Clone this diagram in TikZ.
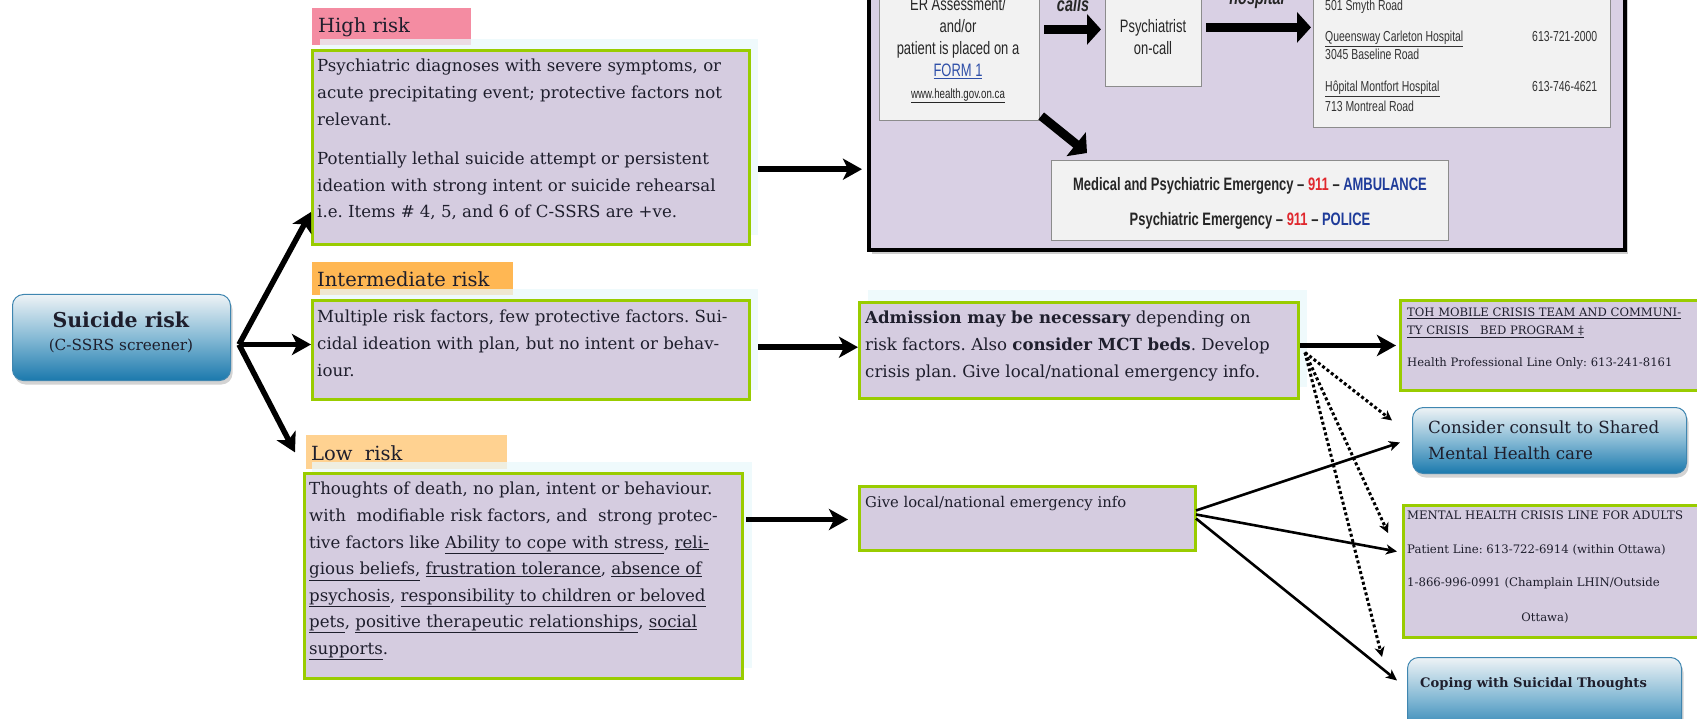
\documentclass[tikz,border=0pt]{standalone}
\usepackage{fontspec}
\setmainfont{DejaVu Serif}
\newfontfamily\cond[FakeStretch=0.72]{Liberation Sans}
\usetikzlibrary{arrows.meta,shadows,calc}
\definecolor{lav}{HTML}{D5CCE0}
\definecolor{biglav}{HTML}{D9D0E4}
\definecolor{grn}{HTML}{99CC00}
\definecolor{cyanbg}{HTML}{EAF8FB}
\definecolor{pinkl}{HTML}{F48CA2}
\definecolor{orangel}{HTML}{FFB753}
\definecolor{lorange}{HTML}{FFD291}
\definecolor{greyf}{HTML}{F2F2F2}
\definecolor{greyd}{HTML}{8C8C8C}
\definecolor{ered}{HTML}{E0282E}
\definecolor{eblue}{HTML}{1F3C9A}
\definecolor{formblue}{HTML}{2E4FA8}
\definecolor{ink}{HTML}{1E1E2C}
\definecolor{gtop}{HTML}{EEF3F6}
\definecolor{gmid}{HTML}{86BAD5}
\definecolor{gbot}{HTML}{1B79AD}
\definecolor{gborder}{HTML}{3F86B0}
\newcommand{\uln}[1]{\underline{#1}}
\frenchspacing
\tikzset{
  riskbox/.style={draw=grn, line width=3pt, fill=lav, anchor=north west, inner sep=0pt},
  cyanrect/.style={fill=cyanbg, fill opacity=0.75, anchor=north west, inner sep=0pt},
  labrect/.style={anchor=north west, inner sep=0pt},
  greybox/.style={draw=greyd, line width=1.2pt, fill=greyf, inner sep=0pt},
  gradbox/.style={rounded corners=11pt, top color=gtop, bottom color=gbot, middle color=gmid,
     draw=gborder, line width=1pt, anchor=north west, inner sep=0pt,
     drop shadow={opacity=0.35, shadow xshift=2pt, shadow yshift=-4pt}},
  btxt/.style={anchor=north west, inner sep=0pt, align=left, text=ink,
     font=\fontsize{16.6}{26.6}\selectfont},
  labtxt/.style={anchor=base west, inner sep=0pt, text=ink, font=\fontsize{19.5}{22}\selectfont},
  stxt/.style={inner sep=0pt, text=ink, font=\fontsize{11.6}{18}\selectfont},
  ctxt/.style={inner sep=0pt, text=black!85, font=\cond\fontsize{18}{21.8}\selectfont},
  htxt/.style={anchor=base west, inner sep=0pt, text=black!80, font=\cond\fontsize{14.5}{17}\selectfont},
  fatarrow/.style={line width=9pt, -{Triangle[length=14pt,width=30pt]}},
  riskarrow/.style={line width=5.5pt, -{Stealth[length=19pt,width=21pt,inset=5pt]}},
  thinarrow/.style={line width=2.6pt, -{Stealth[length=11pt,width=10pt,inset=3pt]}},
  dotarrow/.style={line width=3pt, dash pattern=on 3pt off 2.5pt, -{Stealth[length=10pt,width=10pt,inset=3pt]}}
}
\begin{document}
\begin{tikzpicture}[x=1pt,y=-1pt]
\useasboundingbox (0,0) rectangle (1697,719);
\clip (0,0) rectangle (1697,719);

% ===== Top emergency panel =====
\node[draw=black, line width=4pt, fill=biglav, minimum width=756pt, minimum height=300pt,
      anchor=south west, inner sep=0pt,
      drop shadow={opacity=0.4, shadow xshift=3pt, shadow yshift=-4pt}] (big) at (867,252) {};
\node[greybox, anchor=south west, minimum width=160pt, minimum height=160pt] (er) at (879,121) {};
\node[greybox, anchor=south west, minimum width=96pt, minimum height=130pt] (psych) at (1105,87) {};
\node[greybox, anchor=south west, minimum width=297pt, minimum height=170pt] (hosp) at (1313,128) {};
\node[greybox, anchor=north west, minimum width=397pt, minimum height=80pt] (emerg) at (1051,160) {};

\node[ctxt, align=center] (ertxt) at (958,38) {ER Assessment/\\and/or\\patient is placed on a\\\textcolor{formblue}{\uln{FORM 1}}};
\node[ctxt, font=\cond\fontsize{13.5}{15}\selectfont] (erweb) at (958,96) {\uln{www.health.gov.on.ca}};
\node[ctxt, font=\cond\fontsize{20}{21}\selectfont\bfseries\itshape] (calls) at (1073,4) {calls};
\node[ctxt, font=\cond\fontsize{20}{21}\selectfont\bfseries\itshape] (hospl) at (1257,-1) {hospital};
\node[ctxt, align=center] (psychtxt) at (1153,37) {Psychiatrist\\on-call};

\node[htxt] (h1) at (1325,11) {501 Smyth Road};
\node[htxt] (h2) at (1325,42) {\uln{Queensway Carleton Hospital}};
\node[htxt] (h3) at (1325,60) {3045 Baseline Road};
\node[htxt] (h4) at (1325,92) {\uln{Hôpital Montfort Hospital}};
\node[htxt] (h5) at (1325,112) {713 Montreal Road};
\node[htxt] (p1) at (1532,42) {613-721-2000};
\node[htxt] (p2) at (1532,92) {613-746-4621};

\node[ctxt, anchor=base, font=\cond\fontsize{18}{20}\selectfont\bfseries] (em1) at (1250,191)
  {Medical and Psychiatric Emergency – \textcolor{ered}{911} – \textcolor{eblue}{AMBULANCE}};
\node[ctxt, anchor=base, font=\cond\fontsize{18}{20}\selectfont\bfseries] (em2) at (1250,226)
  {Psychiatric Emergency – \textcolor{ered}{911} – \textcolor{eblue}{POLICE}};

\draw[fatarrow, shorten >=4pt] ([xshift=4pt,yshift=11pt]er.east) -- ([yshift=11pt]er.east -| psych.west);
\draw[fatarrow, shorten >=2pt] ([xshift=4pt,yshift=-6pt]psych.east) -- ([yshift=-6pt]psych.east -| hosp.west);
\draw[fatarrow] ([shift={(1pt,5pt)}]er.south east) -- ([shift={(36pt,7pt)}]emerg.north west);

% ===== Suicide risk =====
\node[gradbox, minimum width=218pt, minimum height=86pt] (sr) at (12,294) {};
\node[inner sep=0pt, align=center, text=ink, font=\fontsize{20.5}{23}\selectfont] (srtxt) at (121,332)
  {\textbf{Suicide risk}\\{\fontsize{15.3}{16}\selectfont (C-SSRS screener)}};
\coordinate (srv) at ([shift={(8pt,-7pt)}]sr.east);

% ===== High risk =====
\node[labrect, fill=pinkl, minimum width=159pt, minimum height=37pt] (hilab) at (312,8) {};
\node[labtxt] (hilabt) at (318,33) {High risk};
\node[cyanrect, minimum width=438pt, minimum height=196pt] (hicy) at (320,39) {};
\node[riskbox, minimum width=437pt, minimum height=194pt] (hi) at (311,49) {};
\node[btxt] (hitxt) at (317,59) {Psychiatric diagnoses with severe symptoms, or\\acute precipitating event; protective factors not\\relevant.\\[13pt]Potentially lethal suicide attempt or persistent\\ideation with strong intent or suicide rehearsal\\i.e. Items \# 4, 5, and 6 of C-SSRS are +ve.};

% ===== Intermediate risk =====
\node[labrect, fill=orangel, minimum width=201pt, minimum height=33pt] (intlab) at (312,262) {};
\node[labtxt] (intlabt) at (317,287) {Intermediate risk};
\node[cyanrect, minimum width=438pt, minimum height=101pt] (intcy) at (320,289) {};
\node[riskbox, minimum width=437pt, minimum height=99pt] (int) at (311,299) {};
\node[btxt] (inttxt) at (317,310) {Multiple risk factors, few protective factors. Sui-\\cidal ideation with plan, but no intent or behav-\\iour.};

% ===== Low risk =====
\node[labrect, fill=lorange, minimum width=201pt, minimum height=34pt] (lowlab) at (306,435) {};
\node[labtxt] (lowlabt) at (311,460) {Low\ \ risk};
\node[cyanrect, minimum width=440pt, minimum height=206pt] (lowcy) at (312,462) {};
\node[riskbox, minimum width=438pt, minimum height=205pt] (low) at (303,472) {};
\node[btxt] (lowtxt) at (309,482) {Thoughts of death, no plan, intent or behaviour.\\with\ \ modifiable risk factors, and\ \ strong protec-\\tive factors like \uln{Ability to cope with stress}, \uln{reli-}\\\uln{gious beliefs,} \uln{frustration tolerance}, \uln{absence of}\\\uln{psychosis}, \uln{responsibility to children or beloved}\\\uln{pets}, \uln{positive therapeutic relationships}, \uln{social}\\\uln{supports}.};

% ===== Middle column =====
\node[cyanrect, minimum width=439pt, minimum height=97pt] (admcy) at (868,290) {};
\node[riskbox, minimum width=439pt, minimum height=96pt] (adm) at (858,301) {};
\node[btxt] (admtxt) at (865,311) {\textbf{Admission may be necessary} depending on\\risk factors. Also \textbf{consider MCT beds}. Develop\\crisis plan. Give local/national emergency info.};
\node[riskbox, minimum width=336pt, minimum height=64pt] (give) at (858,485) {};
\node[btxt, font=\fontsize{14.8}{20}\selectfont] (givetxt) at (865,496) {Give local/national emergency info};

% ===== Right column =====
\node[riskbox, minimum width=320pt, minimum height=90pt] (toh) at (1399,299) {};
\node[stxt, anchor=north west, align=left] (tohtxt) at (1407,308) {\uln{TOH MOBILE CRISIS TEAM AND COMMUNI-}\\\uln{TY CRISIS\ \ \ BED PROGRAM ‡}\\[14pt]Health Professional Line Only: 613-241-8161};
\node[gradbox, minimum width=274pt, minimum height=66pt] (cons) at (1412,407) {};
\node[anchor=north west, inner sep=0pt, align=left, text=ink, font=\fontsize{16.7}{26}\selectfont] (constxt) at (1428,421) {Consider consult to Shared\\Mental Health care};
\node[riskbox, minimum width=320pt, minimum height=132pt] (mh) at (1402,504) {};
\node[stxt, anchor=north west, align=left, font=\fontsize{11.7}{33.3}\selectfont] (mhtxt) at (1407,511) {MENTAL HEALTH CRISIS LINE FOR ADULTS\\Patient Line: 613-722-6914 (within Ottawa)\\1-866-996-0991 (Champlain LHIN/Outside};
\node[stxt] (mhtxt2) at (1545,618) {Ottawa)};
\node[gradbox, minimum width=274pt, minimum height=80pt] (cop) at (1407,657) {};
\node[anchor=base west, inner sep=0pt, text=ink, font=\fontsize{13.1}{17}\selectfont\bfseries] (coptxt) at (1420,687) {Coping with Suicidal Thoughts};

% ===== Connectors =====
\draw[riskarrow] (srv) -- ([yshift=34pt]hi.south west);
\draw[riskarrow] (srv) -- (srv -| int.west);
\draw[riskarrow] (srv) -- ([shift={(-11pt,17pt)}]lowlab.south west);

\draw[riskarrow, shorten >=5pt] ([yshift=-32pt]hicy.east) -- ([yshift=-32pt]hicy.east -| big.west);
\draw[riskarrow] ([yshift=-7.5pt]intcy.east) -- ([yshift=-7.5pt]intcy.east -| adm.west);
\draw[riskarrow, shorten >=12pt] ([shift={(2pt,56.5pt)}]low.east) -- ([shift={(2pt,56.5pt)}]low.east -| give.west);

\draw[riskarrow, shorten >=3pt] ([yshift=5pt]adm.east) -- ([yshift=5pt]adm.east -| toh.west);
\coordinate (dstart) at ([shift={(5pt,-2pt)}]adm.east);
\draw[dotarrow] (dstart) -- ([shift={(-20pt,20pt)}]cons.west);
\draw[dotarrow] (dstart) -- ([shift={(-14pt,-29pt)}]mh.north west);
\draw[dotarrow] (dstart) -- ([xshift=-25pt]cop.north west);

\draw[thinarrow] ([shift={(-1pt,8pt)}]give.east) -- ([shift={(-12pt,-2pt)}]cons.west);
\draw[thinarrow] ([shift={(-1pt,4pt)}]give.east) -- ([shift={(-5pt,20pt)}]mh.west);
\draw[thinarrow] ([shift={(-1pt,0pt)}]give.east) -- ([shift={(-10pt,17pt)}]cop.west);
\end{tikzpicture}
\end{document}
